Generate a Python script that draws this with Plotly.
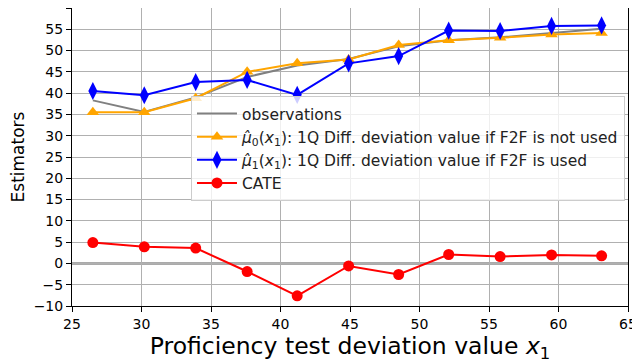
import plotly.graph_objects as go

# data
x_vals = [26.5, 30.2, 33.9, 37.6, 41.2, 44.9, 48.5, 52.1, 55.8, 59.5, 63.1]
observations = [38.3, 35.6, 39.0, 43.8, 46.5, 48.0, 51.0, 52.4, 53.1, 54.1, 55.1]
mu0 = [35.5, 35.5, 38.8, 45.0, 47.0, 47.9, 51.3, 52.4, 53.0, 53.8, 54.1]
mu1 = [40.5, 39.5, 42.6, 43.1, 39.6, 47.0, 48.7, 54.7, 54.6, 55.8, 55.9]
cate = [4.9, 3.9, 3.6, -1.9, -7.6, -0.6, -2.6, 2.1, 1.6, 2.0, 1.8]

x_ticks = [25, 30, 35, 40, 45, 50, 55, 60, 65]
y_ticks = [-10, -5, 0, 5, 10, 15, 20, 25, 30, 35, 40, 45, 50, 55, 60]

FONT = "DejaVu Sans"

fig = go.Figure()

# horizontal zero line
fig.add_hline(y=0, line=dict(color="#aaaaaa", width=3), layer="below")

fig.add_trace(go.Scatter(
    x=x_vals, y=observations, mode="lines", name="observations",
    line=dict(color="#808080", width=2),
))
fig.add_trace(go.Scatter(
    x=x_vals, y=mu0, mode="lines+markers",
    name="<i>μ̂</i><sub>0</sub>(<i>x</i><sub>1</sub>): 1Q Diff. deviation value if F2F is not used",
    line=dict(color="#FFA500", width=2),
    marker=dict(symbol="triangle-up", size=11, color="#FFA500"),
))
fig.add_trace(go.Scatter(
    x=x_vals, y=mu1, mode="lines+markers",
    name="<i>μ̂</i><sub>1</sub>(<i>x</i><sub>1</sub>): 1Q Diff. deviation value if F2F is used",
    line=dict(color="#0000FF", width=2),
    marker=dict(symbol="diamond-tall", size=13, color="#0000FF"),
))
fig.add_trace(go.Scatter(
    x=x_vals, y=cate, mode="lines+markers", name="CATE",
    line=dict(color="#FF0000", width=2),
    marker=dict(symbol="circle", size=11, color="#FF0000"),
))

axis_common = dict(
    showgrid=True, gridcolor="#b0b0b0", gridwidth=1,
    showline=True, linecolor="black", linewidth=1, mirror=True,
    ticks="outside", ticklen=5, tickcolor="black",
    tickfont=dict(family=FONT, size=14, color="black"),
    zeroline=False, automargin=False,
)

fig.update_xaxes(
    range=[25, 65], tickvals=x_ticks,
    title=dict(text="Proficiency test deviation value <i>x</i><sub>1</sub>",
               font=dict(family=FONT, size=23.5, color="black"), standoff=1),
    **axis_common,
)
fig.update_yaxes(
    range=[-10, 60], tickvals=y_ticks,
    title=dict(text="Estimators", font=dict(family=FONT, size=17, color="black"), standoff=8),
    **axis_common,
)

# the page body adds an 8px offset, so margins are trimmed to compensate
fig.update_layout(
    width=640, height=362,
    margin=dict(l=64, r=20, t=0, b=64),
    plot_bgcolor="white", paper_bgcolor="white",
    font=dict(family=FONT, color="black"),
    legend=dict(
        x=0.214, y=0.705, xanchor="left", yanchor="top",
        bgcolor="rgba(255,255,255,0.8)", bordercolor="#cccccc", borderwidth=1,
        font=dict(family=FONT, size=15.5, color="#222222"),
        itemwidth=40, tracegroupgap=0,
    ),
)

fig.write_html("out.html")
